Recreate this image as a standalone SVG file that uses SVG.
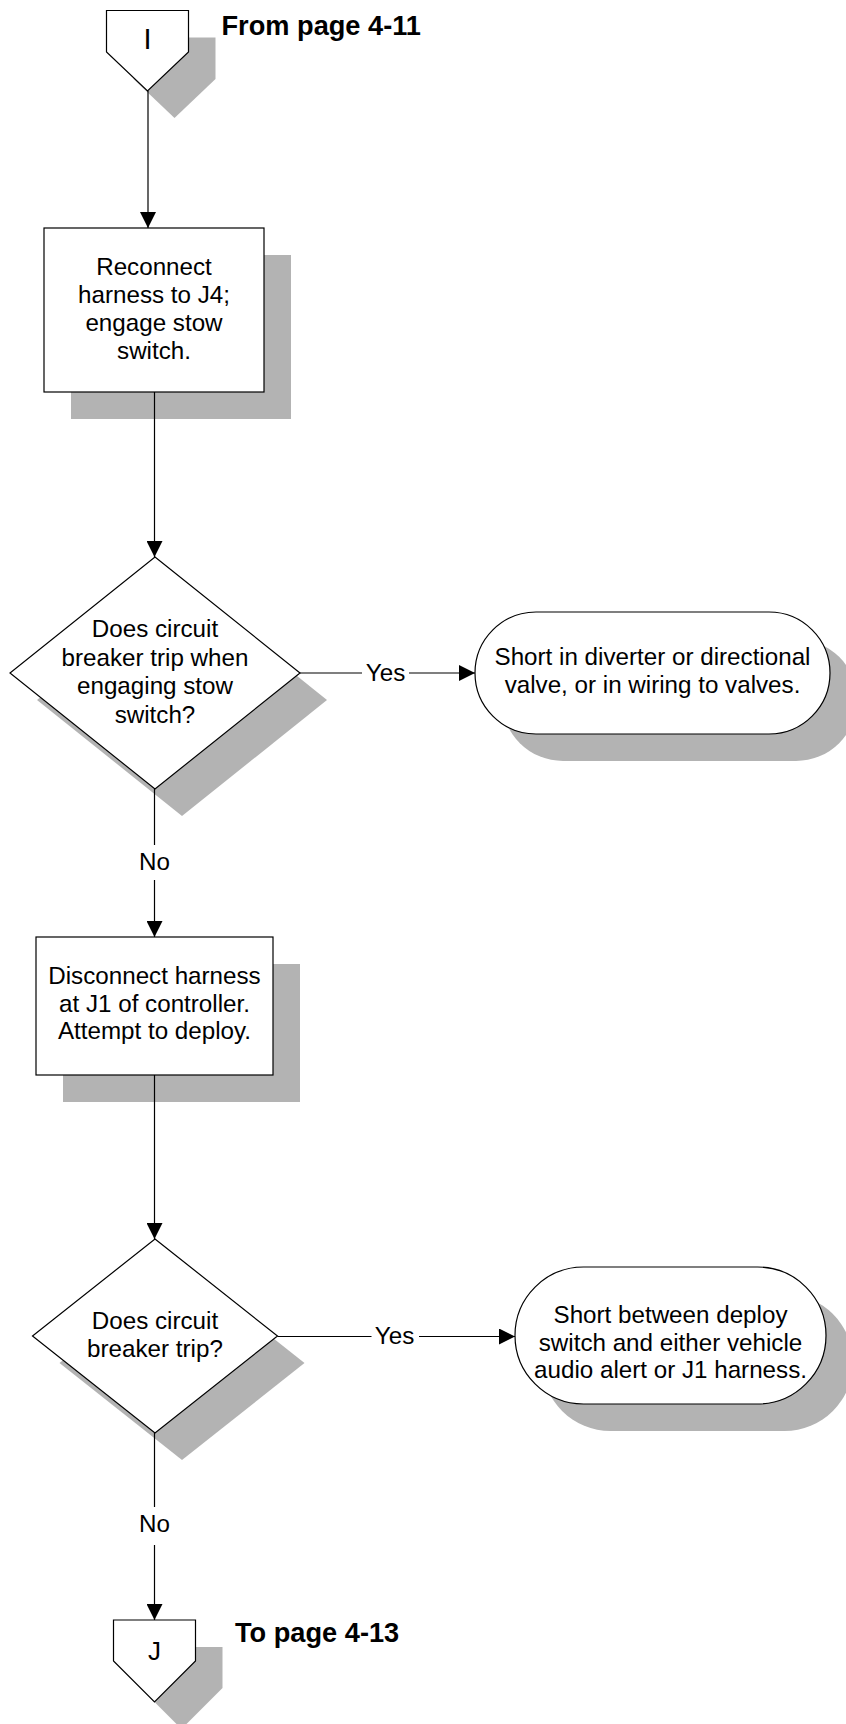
<svg xmlns="http://www.w3.org/2000/svg" width="846" height="1724" viewBox="0 0 846 1724">
  <style>
    .shadow { fill: #b3b3b3; stroke: none; }
    .shape { fill: #ffffff; stroke: #000000; stroke-width: 1.2; }
    .line { fill: none; stroke: #000000; stroke-width: 1.2; }
    .txt { font-family: "Liberation Sans", Arial, sans-serif; font-size: 24.2px; fill: #000000; text-anchor: middle; }
    .ref { font-family: "Liberation Sans", Arial, sans-serif; font-size: 27.2px; font-weight: bold; fill: #000000; }
  </style>
  <defs>
    <marker id="arrow" markerUnits="userSpaceOnUse" markerWidth="17" markerHeight="16" refX="16" refY="8" orient="auto">
      <path d="M0,0 L16,8 L0,16 Z" fill="#000000"/>
    </marker>
  </defs>
  <rect width="846" height="1724" fill="#ffffff"/>

  <!-- off-page connector I -->
  <g id="connector-I">
    <polygon class="shadow" points="133.5,37.5 215.5,37.5 215.5,79 174.5,118 133.5,79"/>
    <polygon class="shape" points="106.5,10.5 188.5,10.5 188.5,52 147.5,91 106.5,52"/>
    <text class="txt" x="147.5" y="49" style="font-size:29px">I</text>
    <text class="ref" x="221.5" y="34.5">From page 4-11</text>
  </g>

  <!-- process: reconnect harness -->
  <g id="step-reconnect">
    <rect class="shadow" x="71" y="255" width="220" height="164"/>
    <rect class="shape" x="44" y="228" width="220" height="164"/>
    <text class="txt" x="154" y="275">Reconnect</text>
    <text class="txt" x="154" y="303">harness to J4;</text>
    <text class="txt" x="154" y="331">engage stow</text>
    <text class="txt" x="154" y="359">switch.</text>
  </g>

  <!-- decision: trip when engaging stow -->
  <g id="decision-stow">
    <polygon class="shadow" points="182,584 327,700 182,816 37,700"/>
    <polygon class="shape" points="155,557 300,673 155,789 10,673"/>
    <text class="txt" x="155" y="637">Does circuit</text>
    <text class="txt" x="155" y="665.5">breaker trip when</text>
    <text class="txt" x="155" y="694">engaging stow</text>
    <text class="txt" x="155" y="722.5">switch?</text>
  </g>

  <!-- terminal: diverter / directional valve -->
  <g id="result-valves">
    <rect class="shadow" x="502" y="639" width="355" height="122" rx="61" ry="61"/>
    <rect class="shape" x="475" y="612" width="355" height="122" rx="61" ry="61"/>
    <text class="txt" x="652.5" y="665">Short in diverter or directional</text>
    <text class="txt" x="652.5" y="693">valve, or in wiring to valves.</text>
  </g>

  <!-- process: disconnect J1 -->
  <g id="step-disconnect">
    <rect class="shadow" x="63" y="964" width="237" height="138"/>
    <rect class="shape" x="36" y="937" width="237" height="138"/>
    <text class="txt" x="154.5" y="984">Disconnect harness</text>
    <text class="txt" x="154.5" y="1011.5">at J1 of controller.</text>
    <text class="txt" x="154.5" y="1039">Attempt to deploy.</text>
  </g>

  <!-- decision: trip on deploy -->
  <g id="decision-deploy">
    <polygon class="shadow" points="182,1266 304.5,1363 182,1460 59.5,1363"/>
    <polygon class="shape" points="155,1239 277.5,1336 155,1433 32.5,1336"/>
    <text class="txt" x="155" y="1329">Does circuit</text>
    <text class="txt" x="155" y="1356.5">breaker trip?</text>
  </g>

  <!-- terminal: deploy switch short -->
  <g id="result-deploy">
    <rect class="shadow" x="542" y="1294" width="311" height="137" rx="68.5" ry="68.5"/>
    <rect class="shape" x="515" y="1267" width="311" height="137" rx="68.5" ry="68.5"/>
    <text class="txt" x="670.5" y="1323">Short between deploy</text>
    <text class="txt" x="670.5" y="1350.5">switch and either vehicle</text>
    <text class="txt" x="670.5" y="1378">audio alert or J1 harness.</text>
  </g>

  <!-- off-page connector J -->
  <g id="connector-J">
    <polygon class="shadow" points="140.5,1647 222.5,1647 222.5,1688 181.5,1729 140.5,1688"/>
    <polygon class="shape" points="113.5,1620 195.5,1620 195.5,1661 154.5,1702 113.5,1661"/>
    <text class="txt" x="154.5" y="1660" style="font-size:26px">J</text>
    <text class="ref" x="235" y="1641.5">To page 4-13</text>
  </g>

  <!-- connectors -->
  <g id="connectors">
    <line class="line" x1="148" y1="91" x2="148" y2="228" marker-end="url(#arrow)"/>
    <line class="line" x1="154.5" y1="392" x2="154.5" y2="557" marker-end="url(#arrow)"/>
    <line class="line" x1="300" y1="673" x2="362" y2="673"/>
    <line class="line" x1="409" y1="673" x2="475" y2="673" marker-end="url(#arrow)"/>
    <text class="txt" x="385.5" y="680.5">Yes</text>
    <line class="line" x1="154.5" y1="789" x2="154.5" y2="845"/>
    <text class="txt" x="154.5" y="870">No</text>
    <line class="line" x1="154.5" y1="880" x2="154.5" y2="937" marker-end="url(#arrow)"/>
    <line class="line" x1="154.5" y1="1075" x2="154.5" y2="1239" marker-end="url(#arrow)"/>
    <line class="line" x1="277.5" y1="1336.5" x2="371.5" y2="1336.5"/>
    <line class="line" x1="419" y1="1336.5" x2="515" y2="1336.5" marker-end="url(#arrow)"/>
    <text class="txt" x="394.5" y="1344">Yes</text>
    <line class="line" x1="154.5" y1="1433" x2="154.5" y2="1507"/>
    <text class="txt" x="154.5" y="1532">No</text>
    <line class="line" x1="154.5" y1="1545" x2="154.5" y2="1620" marker-end="url(#arrow)"/>
  </g>
</svg>
